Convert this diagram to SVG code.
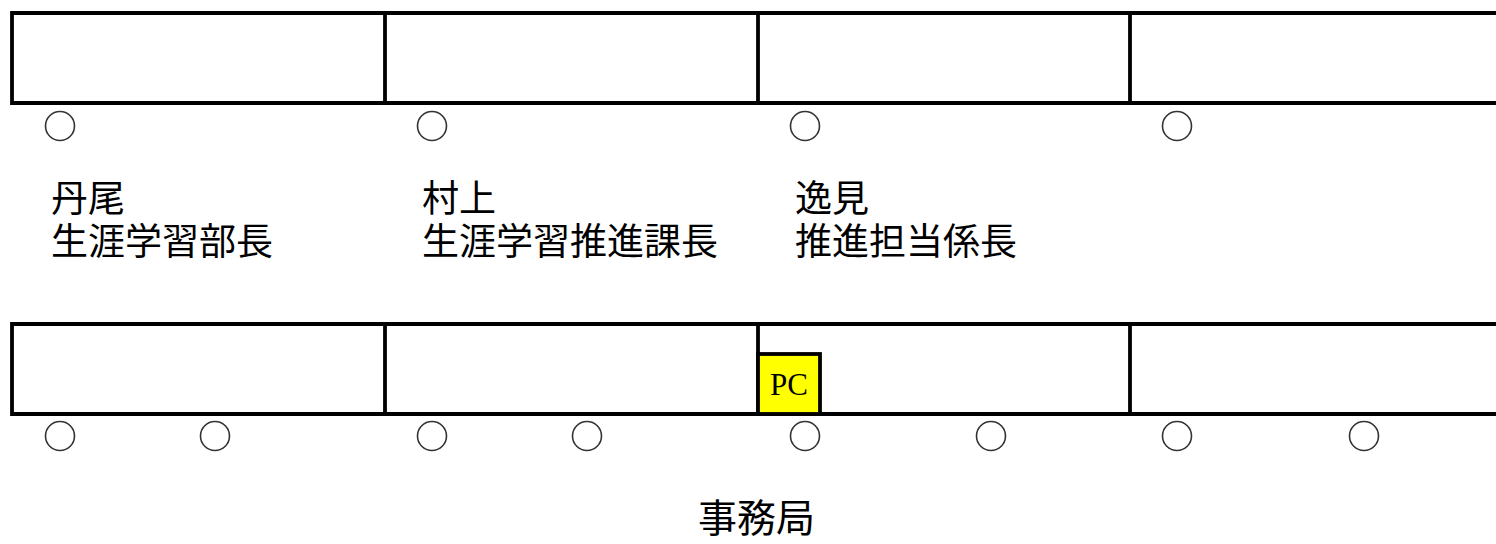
<svg xmlns="http://www.w3.org/2000/svg" width="1496" height="544" viewBox="0 0 1496 544">
<style>
.wall{fill:none;stroke:#000;stroke-width:3.8}
.seat{fill:none;stroke:#333;stroke-width:1.6}
.lbl{font-family:"Liberation Serif","Noto Sans CJK JP",serif;font-size:37px;fill:#000}
.pc{font-family:"Liberation Serif","Noto Sans CJK JP",serif;font-size:31px;fill:#000}
</style>
<rect width="1496" height="544" fill="#fff"/>
<g id="desks-top">
<path class="wall" d="M1500,13 H12 V103 H1500 M385,13 V103 M758,13 V103 M1130,13 V103"/>
</g>
<g id="desks-bottom">
<path class="wall" d="M1500,324 H12 V414 H1500 M385,324 V416 M758,324 V416 M1130,324 V416"/>
</g>
<g id="pc">
<rect x="758" y="354" width="62" height="60" fill="#ffff00" stroke="#000" stroke-width="3.8"/>
<text class="pc" x="789" y="395" text-anchor="middle">PC</text>
</g>
<g id="seats-top">
<circle class="seat" cx="60" cy="126" r="14.5"/>
<circle class="seat" cx="432" cy="126" r="14.5"/>
<circle class="seat" cx="805" cy="126" r="14.5"/>
<circle class="seat" cx="1177" cy="126" r="14.5"/>
</g>
<g id="seats-bottom">
<circle class="seat" cx="60" cy="436" r="14.5"/>
<circle class="seat" cx="215" cy="436" r="14.5"/>
<circle class="seat" cx="432" cy="436" r="14.5"/>
<circle class="seat" cx="587" cy="436" r="14.5"/>
<circle class="seat" cx="805" cy="436" r="14.5"/>
<circle class="seat" cx="991" cy="436" r="14.5"/>
<circle class="seat" cx="1177" cy="436" r="14.5"/>
<circle class="seat" cx="1364" cy="436" r="14.5"/>
</g>
<g id="label-nio">
<text class="lbl" x="51" y="212">丹尾</text>
<text class="lbl" x="51" y="255">生涯学習部長</text>
</g>
<g id="label-murakami">
<text class="lbl" x="422" y="212">村上</text>
<text class="lbl" x="422" y="255">生涯学習推進課長</text>
</g>
<g id="label-hemmi">
<text class="lbl" x="795" y="212">逸見</text>
<text class="lbl" x="795" y="255">推進担当係長</text>
</g>
<g id="label-office">
<text class="lbl" x="698" y="532" style="font-size:39px">事務局</text>
</g>
</svg>
